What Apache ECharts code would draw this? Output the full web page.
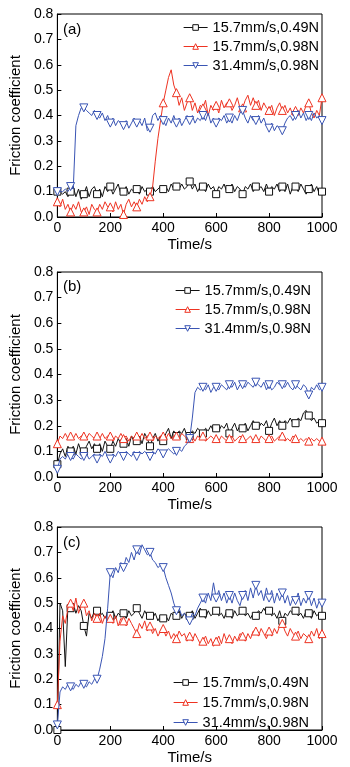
<!DOCTYPE html>
<html>
<head>
<meta charset="utf-8">
<script src="https://cdn.jsdelivr.net/npm/echarts@6/dist/echarts.min.js"></script>
<style>
  html, body { margin: 0; padding: 0; background: #fff; }
  #chart { width: 350px; height: 767px; }
</style>
</head>
<body>
<div id="chart"></div>
<script>
// time axis: one reading every 10 s, 0..1000 s
var times = [];
for (var k = 0; k <= 100; k++) times.push(k * 10);

var seriesNames = ["15.7mm/s,0.49N", "15.7mm/s,0.98N", "31.4mm/s,0.98N"];
var yTicks = ["0.0", "0.1", "0.2", "0.3", "0.4", "0.5", "0.6", "0.7", "0.8"];
var xTicks = ["0", "200", "400", "600", "800", "1000"];

// panel (a)
var a_black = [0.10,0.10,0.09,0.10,0.08, 0.10,0.12,0.08,0.11,0.07, 0.09,0.12,0.08,0.11,0.12, 0.09,0.11,0.08,0.12,0.10,
  0.12,0.09,0.11,0.13,0.09, 0.10,0.12,0.09,0.11,0.10, 0.11,0.09,0.12,0.10,0.11, 0.10,0.12,0.10,0.11,0.12,
  0.11,0.12,0.10,0.13,0.11, 0.12,0.11,0.13,0.11,0.12, 0.14,0.11,0.13,0.10,0.12, 0.12,0.10,0.13,0.11,0.12,
  0.09,0.12,0.11,0.13,0.10, 0.11,0.13,0.10,0.12,0.11, 0.09,0.12,0.11,0.13,0.10, 0.12,0.11,0.12,0.10,0.13,
  0.10,0.12,0.11,0.13,0.10, 0.12,0.10,0.13,0.09,0.12, 0.12,0.10,0.13,0.11,0.09, 0.11,0.13,0.10,0.12,0.09, 0.10];
var a_red = [0.06,0.04,0.07,0.03,0.05, 0.02,0.05,0.03,0.06,0.02, 0.02,0.04,0.01,0.05,0.03, 0.02,0.05,0.03,0.06,0.04,
  0.04,0.02,0.06,0.03,0.05, 0.01,0.05,0.07,0.04,0.06, 0.04,0.07,0.05,0.08,0.06, 0.08,0.12,0.22,0.31,0.38,
  0.45,0.50,0.55,0.58,0.52, 0.49,0.44,0.47,0.42,0.45, 0.47,0.42,0.45,0.41,0.44, 0.43,0.46,0.40,0.44,0.42,
  0.44,0.41,0.46,0.43,0.45, 0.45,0.42,0.44,0.47,0.43, 0.43,0.46,0.48,0.44,0.47, 0.44,0.46,0.42,0.45,0.43,
  0.42,0.44,0.40,0.43,0.45, 0.42,0.44,0.41,0.43,0.40, 0.42,0.40,0.43,0.41,0.44, 0.45,0.41,0.39,0.42,0.40, 0.47];
var a_blue = [0.10,0.10,0.10,0.11,0.10, 0.12,0.11,0.36,0.40,0.43, 0.43,0.42,0.41,0.40,0.42, 0.40,0.39,0.41,0.38,0.40,
  0.37,0.39,0.36,0.38,0.37, 0.36,0.38,0.35,0.37,0.39, 0.37,0.38,0.36,0.39,0.34, 0.35,0.40,0.41,0.38,0.40,
  0.38,0.36,0.39,0.37,0.40, 0.37,0.39,0.36,0.38,0.40, 0.38,0.40,0.37,0.39,0.38, 0.40,0.38,0.41,0.37,0.39,
  0.37,0.39,0.38,0.40,0.37, 0.39,0.37,0.40,0.38,0.41, 0.42,0.39,0.37,0.40,0.38, 0.38,0.40,0.37,0.39,0.36,
  0.35,0.37,0.34,0.36,0.35, 0.34,0.37,0.39,0.40,0.38, 0.40,0.42,0.39,0.41,0.38, 0.40,0.38,0.41,0.39,0.40, 0.38];

// panel (b)
var b_black = [0.05,0.09,0.11,0.08,0.12, 0.10,0.12,0.09,0.13,0.10, 0.10,0.12,0.14,0.11,0.13, 0.11,0.13,0.10,0.14,0.12,
  0.11,0.14,0.12,0.15,0.13, 0.13,0.15,0.12,0.16,0.14, 0.14,0.16,0.13,0.17,0.15, 0.12,0.15,0.17,0.14,0.16,
  0.14,0.17,0.19,0.15,0.18, 0.16,0.18,0.17,0.19,0.16, 0.16,0.18,0.17,0.19,0.18, 0.17,0.19,0.18,0.20,0.18,
  0.19,0.18,0.20,0.19,0.21, 0.17,0.19,0.21,0.18,0.20, 0.19,0.21,0.18,0.20,0.22, 0.20,0.19,0.21,0.20,0.22,
  0.18,0.21,0.23,0.20,0.22, 0.20,0.22,0.21,0.23,0.21, 0.21,0.23,0.22,0.25,0.26, 0.24,0.22,0.23,0.21,0.22, 0.21];
var b_red = [0.13,0.16,0.15,0.17,0.15, 0.16,0.15,0.17,0.15,0.16, 0.16,0.15,0.17,0.16,0.15, 0.16,0.15,0.17,0.15,0.16,
  0.16,0.14,0.16,0.15,0.17, 0.15,0.16,0.14,0.16,0.15, 0.16,0.15,0.17,0.15,0.16, 0.16,0.14,0.16,0.15,0.16,
  0.16,0.15,0.17,0.15,0.16, 0.16,0.15,0.17,0.16,0.15, 0.15,0.16,0.14,0.16,0.15, 0.16,0.14,0.15,0.16,0.15,
  0.15,0.14,0.16,0.15,0.14, 0.15,0.16,0.14,0.15,0.16, 0.15,0.14,0.15,0.16,0.14, 0.15,0.14,0.16,0.15,0.14,
  0.15,0.16,0.14,0.15,0.16, 0.16,0.14,0.15,0.14,0.16, 0.15,0.14,0.15,0.14,0.15, 0.14,0.15,0.14,0.15,0.14, 0.14];
var b_blue = [0.03,0.07,0.08,0.07,0.09, 0.08,0.07,0.09,0.08,0.07, 0.08,0.09,0.07,0.08,0.09, 0.07,0.09,0.08,0.10,0.08,
  0.07,0.09,0.08,0.10,0.09, 0.08,0.10,0.09,0.08,0.10, 0.08,0.10,0.09,0.10,0.09, 0.08,0.10,0.09,0.11,0.10,
  0.09,0.10,0.11,0.10,0.09, 0.10,0.11,0.10,0.12,0.13, 0.15,0.23,0.33,0.35,0.34, 0.35,0.34,0.36,0.33,0.35,
  0.35,0.34,0.36,0.35,0.34, 0.36,0.35,0.37,0.34,0.36, 0.36,0.35,0.37,0.36,0.35, 0.37,0.36,0.35,0.37,0.34,
  0.36,0.34,0.35,0.37,0.36, 0.36,0.35,0.37,0.35,0.34, 0.36,0.35,0.34,0.36,0.35, 0.32,0.35,0.34,0.36,0.34, 0.35];

// panel (c)
var c_black = [0.00,0.50,0.47,0.25,0.49, 0.48,0.50,0.46,0.49,0.47, 0.41,0.37,0.46,0.44,0.47, 0.47,0.45,0.46,0.44,0.46,
  0.45,0.47,0.44,0.46,0.45, 0.46,0.44,0.47,0.45,0.46, 0.48,0.46,0.44,0.47,0.45, 0.45,0.44,0.46,0.43,0.45,
  0.44,0.45,0.43,0.46,0.45, 0.45,0.47,0.44,0.46,0.45, 0.45,0.47,0.44,0.46,0.48, 0.46,0.44,0.47,0.45,0.46,
  0.47,0.45,0.46,0.44,0.47, 0.46,0.44,0.47,0.45,0.46, 0.47,0.45,0.46,0.44,0.46, 0.45,0.47,0.46,0.48,0.46,
  0.47,0.45,0.46,0.44,0.47, 0.43,0.46,0.45,0.47,0.46, 0.47,0.45,0.46,0.44,0.47, 0.46,0.44,0.47,0.45,0.46, 0.45];
var c_red = [0.10,0.35,0.45,0.42,0.48, 0.50,0.47,0.52,0.46,0.49, 0.50,0.45,0.47,0.43,0.46, 0.44,0.46,0.42,0.45,0.43,
  0.44,0.42,0.45,0.41,0.44, 0.43,0.41,0.44,0.42,0.40, 0.38,0.42,0.40,0.43,0.39, 0.41,0.38,0.40,0.37,0.39,
  0.40,0.37,0.39,0.36,0.38, 0.36,0.39,0.37,0.38,0.35, 0.37,0.35,0.38,0.36,0.34, 0.35,0.37,0.34,0.36,0.33,
  0.35,0.37,0.34,0.38,0.35, 0.36,0.34,0.37,0.35,0.38, 0.37,0.35,0.38,0.36,0.39, 0.39,0.37,0.40,0.38,0.36,
  0.39,0.37,0.40,0.38,0.41, 0.42,0.39,0.37,0.40,0.38, 0.37,0.39,0.36,0.38,0.37, 0.36,0.39,0.37,0.40,0.36, 0.38];
var c_blue = [0.02,0.15,0.17,0.16,0.18, 0.17,0.16,0.18,0.17,0.19, 0.18,0.17,0.19,0.18,0.20, 0.20,0.24,0.29,0.36,0.48,
  0.62,0.60,0.64,0.62,0.66, 0.64,0.68,0.66,0.70,0.67, 0.71,0.69,0.73,0.71,0.69, 0.70,0.67,0.66,0.64,0.65,
  0.64,0.60,0.57,0.54,0.50, 0.47,0.48,0.45,0.46,0.44, 0.43,0.46,0.45,0.48,0.50, 0.52,0.50,0.54,0.51,0.58,
  0.52,0.55,0.51,0.54,0.50, 0.53,0.50,0.54,0.51,0.49, 0.53,0.55,0.51,0.56,0.52, 0.57,0.53,0.55,0.51,0.56,
  0.52,0.55,0.50,0.54,0.51, 0.54,0.50,0.53,0.49,0.52, 0.51,0.54,0.49,0.52,0.50, 0.53,0.49,0.52,0.48,0.51, 0.50];

var colors = ["#111111", "#ee3322", "#3a55b4"];
var font = "'Liberation Sans', Arial, sans-serif";

var grids = [
  { left: 54, top: 14, width: 268, height: 203 },
  { left: 54, top: 272, width: 268, height: 205 },
  { left: 54, top: 527, width: 268, height: 203 },
];

function buildData(vals) {
  // marker every 50 s, plain line in between
  return vals.map(function (v, i) {
    if (i % 5 === 0) return [times[i], v];
    return { value: [times[i], v], symbol: "none" };
  });
}

function makeSeries(idx, grid, vals) {
  return {
    name: seriesNames[idx],
    type: "line",
    xAxisIndex: grid,
    yAxisIndex: grid,
    data: buildData(vals),
    showAllSymbol: true,
    symbol: idx === 0 ? "rect" : "triangle",
    symbolSize: idx === 0 ? 7 : 8,
    symbolRotate: idx === 2 ? 180 : 0,
    lineStyle: { color: colors[idx], width: 1 },
    itemStyle: { color: "#fff", borderColor: colors[idx], borderWidth: 1 },
    emphasis: { disabled: true },
    z: 2 + idx,
  };
}

var xAxes = [], yAxes = [];
for (var g = 0; g < 3; g++) {
  xAxes.push({
    type: "value",
    gridIndex: g,
    min: 0,
    max: 1000,
    interval: 200,
    name: "Time/s",
    nameLocation: "middle",
    nameGap: 20,
    nameTextStyle: { color: "#000", fontSize: 15, fontFamily: font },
    axisLine: { lineStyle: { color: "#000", width: 1 } },
    axisTick: { inside: true, length: 4, lineStyle: { color: "#000" } },
    axisLabel: {
      color: "#000",
      fontSize: 14,
      fontFamily: font,
      margin: 4,
      formatter: function (v) { return xTicks[Math.round(v / 200)]; },
    },
    splitLine: { show: false },
  });
  yAxes.push({
    type: "value",
    gridIndex: g,
    min: 0,
    max: 0.8,
    interval: 0.1,
    name: "Friction coefficient",
    nameLocation: "middle",
    nameGap: 30,
    nameTextStyle: { color: "#000", fontSize: 15, fontFamily: font },
    axisLine: { lineStyle: { color: "#000", width: 1 } },
    axisTick: { inside: true, length: 4, lineStyle: { color: "#000" } },
    axisLabel: {
      color: "#000",
      fontSize: 14,
      fontFamily: font,
      margin: 4,
      formatter: function (v) { return yTicks[Math.round(v * 10)]; },
    },
    splitLine: { show: false },
  });
}

var legendBase = {
  orient: "vertical",
  data: seriesNames,
  itemWidth: 24,
  itemHeight: 7,
  itemGap: 4,
  symbolRotate: "inherit",
  lineStyle: { width: 1 },
  itemStyle: { borderWidth: 1 },
  textStyle: { color: "#000", fontSize: 14.5, fontFamily: font },
  selectedMode: false,
};

var chart = echarts.init(document.getElementById("chart"));
var option = {
  animation: false,
  backgroundColor: "#fff",
  grid: grids.map(function (gr) {
    return Object.assign({ show: true, borderColor: "#000", borderWidth: 1, backgroundColor: "transparent" }, gr);
  }),
  title: [
    { text: "(a)", left: 58, top: 17 },
    { text: "(b)", left: 58, top: 274 },
    { text: "(c)", left: 58, top: 530 },
  ].map(function (t) {
    t.textStyle = { color: "#000", fontSize: 15, fontWeight: "normal", fontFamily: font };
    return t;
  }),
  legend: [
    Object.assign({}, legendBase, { right: 26, top: 15 }),
    Object.assign({}, legendBase, { right: 34, top: 278 }),
    Object.assign({}, legendBase, { right: 36, top: 670, itemGap: 5 }),
  ],
  xAxis: xAxes,
  yAxis: yAxes,
  series: [
    makeSeries(0, 0, a_black), makeSeries(1, 0, a_red), makeSeries(2, 0, a_blue),
    makeSeries(0, 1, b_black), makeSeries(1, 1, b_red), makeSeries(2, 1, b_blue),
    makeSeries(0, 2, c_black), makeSeries(1, 2, c_red), makeSeries(2, 2, c_blue),
  ],
};
chart.setOption(option);
</script>
</body>
</html>
